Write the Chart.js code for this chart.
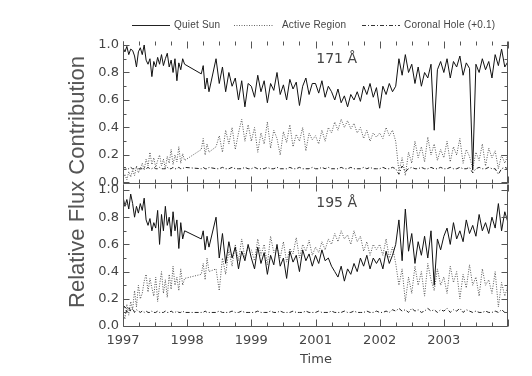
<!DOCTYPE html>
<html>
<head>
<meta charset="utf-8">
<script src="https://cdn.jsdelivr.net/npm/chart.js@4.4.1/dist/chart.umd.min.js"></script>
<style>
  html, body { margin: 0; padding: 0; background: #fff; }
  #wrap { position: relative; width: 532px; height: 376px; overflow: hidden; font-family: 'DejaVu Sans', sans-serif; color: #444; }
  #wrap canvas { position: absolute; left: 0; top: 0; }
  .txt { position: absolute; white-space: nowrap; }
  .leg { font-family: 'Liberation Sans', sans-serif; font-size: 10px; line-height: 10px; top: 20px; letter-spacing: 0.2px; }
  .band { font-size: 14px; line-height: 14px; left: 0; width: 357px; text-align: right; }
</style>
</head>
<body>
<div id="wrap">
  <canvas id="top171" width="532" height="376"></canvas>
  <canvas id="bot195" width="532" height="376"></canvas>

  <svg class="txt" style="left:0;top:0" width="532" height="40">
    <line x1="132" y1="25.5" x2="170" y2="25.5" stroke="#222" stroke-width="1"/>
    <line x1="234" y1="25.5" x2="274" y2="25.5" stroke="#666" stroke-width="1" stroke-dasharray="1,1.5"/>
    <line x1="362" y1="25.5" x2="400" y2="25.5" stroke="#333" stroke-width="1" stroke-dasharray="4,2,1,2"/>
  </svg>
  <div class="txt leg" style="left:174px">Quiet Sun</div>
  <div class="txt leg" style="left:282px">Active Region</div>
  <div class="txt leg" style="left:404px">Coronal Hole (+0.1)</div>

  <div class="txt band" style="top:51px">171 Å</div>
  <div class="txt band" style="top:195px">195 Å</div>

  <div class="txt" style="left:-73px;top:170px;width:300px;height:24px;line-height:24px;text-align:center;font-family:'Liberation Sans',sans-serif;font-size:22px;color:#555;transform:rotate(-90deg);">Relative Flux Contribution</div>
  <div class="txt" style="left:266px;top:352px;width:100px;text-align:center;font-size:13px;line-height:13px;">Time</div>
</div>

<script>
// sample times in axis units (0 = start of 1997 label, 1 per labelled tick)
var times = [
  0, 0.03, 0.06, 0.09, 0.12, 0.15, 0.18, 0.21, 0.24, 0.27, 0.30, 0.33, 0.36, 0.39, 0.42, 0.45, 0.48,
  0.51, 0.54, 0.57, 0.60, 0.63, 0.66, 0.69, 0.72, 0.75, 0.78, 0.81, 0.84, 0.87, 0.90, 0.93, 0.96,
  1.22, 1.25, 1.28, 1.31, 1.34,
  1.45, 1.50, 1.55, 1.60, 1.65, 1.70, 1.75, 1.80, 1.85, 1.90, 1.95,
  2.00, 2.05, 2.10, 2.15, 2.20, 2.25, 2.30, 2.35, 2.40, 2.45, 2.50, 2.55, 2.60, 2.65, 2.70, 2.75, 2.80, 2.85, 2.90, 2.95,
  3.00, 3.05, 3.10, 3.15, 3.20, 3.25, 3.30, 3.35, 3.40, 3.45, 3.50, 3.55, 3.60, 3.65, 3.70, 3.75, 3.80, 3.85, 3.90, 3.95,
  4.00, 4.05, 4.10, 4.15, 4.20, 4.25, 4.30, 4.35, 4.40, 4.45, 4.50, 4.55, 4.60, 4.65, 4.70, 4.75, 4.80, 4.85, 4.90, 4.95,
  5.00, 5.05, 5.10, 5.15, 5.20, 5.25, 5.30, 5.35, 5.40, 5.45, 5.50, 5.55, 5.60, 5.65, 5.70, 5.75, 5.80, 5.85, 5.90, 5.95,
  6.00
];

// 171 A panel
var qs171 = [
  0.98, 0.95, 0.99, 0.93, 0.97, 0.96, 0.92, 0.84, 0.95, 0.98, 0.93, 1.0, 0.89, 0.86, 0.9, 0.77, 0.88,
  0.84, 0.91, 0.86, 0.93, 0.85, 0.9, 0.94, 0.84, 0.89, 0.8, 0.9, 0.74, 0.87, 0.82, 0.9, 0.86,
  0.79, 0.85, 0.68, 0.76, 0.66,
  0.9, 0.72, 0.84, 0.66, 0.8, 0.7, 0.76, 0.6, 0.74, 0.55, 0.72,
  0.7, 0.62, 0.78, 0.66, 0.74, 0.58, 0.72, 0.67, 0.8, 0.64, 0.71, 0.6, 0.75, 0.68, 0.73, 0.56, 0.7, 0.76, 0.64, 0.72,
  0.72, 0.65, 0.74, 0.62, 0.7, 0.66, 0.6, 0.68, 0.58, 0.63, 0.55, 0.64, 0.6, 0.66, 0.59, 0.7, 0.64, 0.72, 0.62, 0.69,
  0.54, 0.7, 0.64, 0.72, 0.66, 0.7, 0.9, 0.78, 0.93, 0.8, 0.86, 0.72, 0.84, 0.7, 0.8, 0.76, 0.86, 0.38, 0.82, 0.88,
  0.8, 0.9, 0.76, 0.88, 0.84, 0.92, 0.78, 0.87, 0.83, 0.09, 0.86, 0.8, 0.9, 0.82, 0.88, 0.76, 0.93, 0.85, 0.97, 0.84,
  0.88
];
var ar171 = [
  0.03, 0.06, 0.02, 0.08, 0.04, 0.09, 0.05, 0.12, 0.07, 0.1, 0.14, 0.09, 0.17, 0.12, 0.22, 0.13, 0.18,
  0.11, 0.16, 0.2, 0.12, 0.17, 0.1, 0.19, 0.14, 0.24, 0.13, 0.2, 0.15, 0.26, 0.14, 0.21, 0.16,
  0.24, 0.32, 0.2, 0.28, 0.22,
  0.26, 0.34, 0.22, 0.38, 0.28, 0.4, 0.24, 0.36, 0.46, 0.3, 0.42,
  0.3, 0.4, 0.22, 0.36, 0.28, 0.44, 0.25, 0.38, 0.32, 0.2, 0.37, 0.29, 0.42, 0.26, 0.35, 0.3, 0.4, 0.23, 0.36, 0.31,
  0.34, 0.28, 0.38, 0.3, 0.4, 0.36, 0.44, 0.38, 0.46, 0.4, 0.45, 0.39, 0.43, 0.36, 0.4, 0.32, 0.38, 0.3, 0.36, 0.33,
  0.36, 0.32, 0.4, 0.34, 0.38, 0.3, 0.08, 0.18, 0.05, 0.22, 0.14, 0.3, 0.18, 0.26, 0.15, 0.33, 0.2, 0.28, 0.16, 0.24,
  0.18, 0.3, 0.15, 0.26, 0.2, 0.32, 0.14, 0.24, 0.19, 0.1, 0.22, 0.16, 0.28, 0.12, 0.25, 0.18, 0.23, 0.1, 0.2, 0.14,
  0.2
];
var ch171 = [
  0.1, 0.11, 0.1, 0.1, 0.11, 0.1, 0.1, 0.11, 0.1, 0.1, 0.1, 0.11, 0.1, 0.11, 0.1, 0.1, 0.11,
  0.1, 0.1, 0.11, 0.1, 0.1, 0.1, 0.11, 0.1, 0.1, 0.11, 0.1, 0.1, 0.11, 0.1, 0.1, 0.11,
  0.1, 0.11, 0.1, 0.1, 0.11,
  0.1, 0.1, 0.11, 0.1, 0.1, 0.11, 0.1, 0.1, 0.1, 0.11, 0.1,
  0.1, 0.11, 0.1, 0.1, 0.1, 0.11, 0.1, 0.1, 0.11, 0.1, 0.1, 0.1, 0.11, 0.1, 0.1, 0.11, 0.1, 0.1, 0.1, 0.11,
  0.1, 0.1, 0.11, 0.1, 0.11, 0.1, 0.1, 0.1, 0.11, 0.1, 0.1, 0.11, 0.1, 0.1, 0.1, 0.11, 0.1, 0.11, 0.1, 0.1,
  0.1, 0.11, 0.1, 0.1, 0.11, 0.1, 0.06, 0.12, 0.08, 0.1, 0.11, 0.1, 0.1, 0.11, 0.1, 0.1, 0.11, 0.1, 0.1, 0.11,
  0.1, 0.1, 0.11, 0.1, 0.1, 0.11, 0.1, 0.1, 0.11, 0.07, 0.1, 0.11, 0.1, 0.1, 0.11, 0.1, 0.1, 0.06, 0.1, 0.11,
  0.1
];

// 195 A panel
var qs195 = [
  0.95, 0.88, 0.93, 0.86, 0.97, 0.9, 0.8, 0.88, 0.83, 0.9, 0.85, 0.94, 0.78, 0.74, 0.79, 0.7, 0.76,
  0.72, 0.85, 0.6, 0.82, 0.7, 0.88, 0.74, 0.8, 0.66, 0.84, 0.7, 0.78, 0.57, 0.76, 0.64, 0.7,
  0.64, 0.7, 0.56, 0.66, 0.58,
  0.8, 0.5, 0.68, 0.46, 0.62, 0.5, 0.58, 0.42, 0.55, 0.48, 0.6,
  0.5, 0.42, 0.58, 0.46, 0.54, 0.38, 0.52, 0.45, 0.6, 0.44, 0.5, 0.35, 0.55, 0.47, 0.52, 0.4, 0.56, 0.48, 0.53, 0.44,
  0.52, 0.46, 0.56, 0.48, 0.5, 0.44, 0.4, 0.36, 0.44, 0.33, 0.42, 0.38, 0.46, 0.4, 0.5, 0.44, 0.52, 0.42, 0.5, 0.46,
  0.5, 0.42, 0.55, 0.46, 0.52, 0.6, 0.78, 0.48, 0.86, 0.55, 0.68, 0.46, 0.62, 0.52, 0.66, 0.5, 0.7, 0.3, 0.64, 0.56,
  0.66, 0.72, 0.6, 0.76, 0.64, 0.7, 0.62, 0.78, 0.68, 0.74, 0.66, 0.82, 0.7, 0.76, 0.68, 0.8, 0.72, 0.9, 0.7, 0.84,
  0.76
];
var ar195 = [
  0.1, 0.05, 0.16, 0.08, 0.18, 0.12, 0.26, 0.14, 0.3, 0.2, 0.24, 0.33, 0.38, 0.25, 0.35, 0.28, 0.22,
  0.36, 0.18, 0.3, 0.4, 0.24, 0.34, 0.21, 0.38, 0.27, 0.44, 0.3, 0.36, 0.26, 0.42, 0.3, 0.35,
  0.38, 0.46, 0.34, 0.5, 0.4,
  0.42, 0.26, 0.5, 0.38, 0.56, 0.44, 0.6, 0.48, 0.64, 0.5, 0.58,
  0.56, 0.48, 0.64, 0.52, 0.6, 0.45, 0.66, 0.54, 0.58, 0.5, 0.62, 0.47, 0.57, 0.53, 0.65, 0.5, 0.6, 0.55, 0.63, 0.52,
  0.58, 0.54, 0.62, 0.56, 0.64, 0.6, 0.68, 0.62, 0.7, 0.64, 0.67, 0.6, 0.7, 0.62, 0.66, 0.55, 0.62, 0.52, 0.6, 0.56,
  0.6, 0.52, 0.64, 0.5, 0.58, 0.46, 0.3, 0.42, 0.18, 0.36, 0.24, 0.44, 0.3, 0.4, 0.22, 0.46, 0.34, 0.26, 0.42, 0.3,
  0.36, 0.24, 0.44, 0.32, 0.4, 0.2, 0.38, 0.28, 0.45, 0.3, 0.36, 0.22, 0.42, 0.3, 0.34, 0.24, 0.4, 0.14, 0.32, 0.22,
  0.3
];
var ch195 = [
  0.12, 0.15, 0.1, 0.14, 0.11, 0.13, 0.1, 0.12, 0.11, 0.1, 0.11, 0.1, 0.11, 0.1, 0.1, 0.11, 0.1,
  0.1, 0.11, 0.1, 0.1, 0.1, 0.11, 0.1, 0.1, 0.11, 0.1, 0.1, 0.11, 0.1, 0.1, 0.11, 0.1,
  0.1, 0.1, 0.11, 0.1, 0.1,
  0.1, 0.11, 0.1, 0.1, 0.1, 0.11, 0.1, 0.1, 0.11, 0.1, 0.1,
  0.1, 0.1, 0.11, 0.1, 0.1, 0.1, 0.11, 0.1, 0.1, 0.11, 0.1, 0.1, 0.1, 0.11, 0.1, 0.1, 0.1, 0.11, 0.1, 0.1,
  0.1, 0.11, 0.1, 0.1, 0.1, 0.11, 0.1, 0.1, 0.1, 0.11, 0.1, 0.1, 0.11, 0.1, 0.1, 0.1, 0.11, 0.1, 0.1, 0.11,
  0.1, 0.1, 0.11, 0.1, 0.12, 0.11, 0.13, 0.11, 0.12, 0.1, 0.13, 0.11, 0.12, 0.1, 0.11, 0.13, 0.11, 0.12, 0.1, 0.12,
  0.11, 0.13, 0.1, 0.12, 0.11, 0.13, 0.1, 0.12, 0.11, 0.1, 0.11, 0.1, 0.1, 0.11, 0.1, 0.1, 0.11, 0.1, 0.12, 0.1,
  0.1
];

var xTickLabels = ['1997', '1998', '1999', '2001', '2002', '2003'];
var yTicks = [0, 0.2, 0.4, 0.6, 0.8, 1.0];

var axisColor = '#555';
var tickFont = { family: "'DejaVu Sans', sans-serif", size: 13 };

function pts(vals) {
  return times.map(function(t, i) { return { x: t, y: vals[i] }; });
}

// IDL-style frame: left/right/bottom lines, inward ticks on all four sides
var frameTicks = {
  id: 'frameTicks',
  afterDraw: function(chart) {
    var ctx = chart.ctx, a = chart.chartArea;
    var xs = chart.scales.x, ys = chart.scales.y;
    var L = Math.round(a.left) + 0.5, R = Math.round(a.right) - 0.5;
    var T = Math.round(a.top) + 0.5, B = Math.round(a.bottom) - 0.5;
    ctx.save();
    try {
      ctx.setLineDash([]);
      ctx.strokeStyle = axisColor;
      ctx.lineWidth = 1;
      ctx.beginPath();
      ctx.moveTo(L, T); ctx.lineTo(L, B); ctx.lineTo(R, B); ctx.lineTo(R, T);
      for (var i = 0; i <= 24; i++) {
        var px = Math.round(xs.getPixelForValue(i / 4)) + 0.5;
        var len = i % 4 === 0 ? 7 : 4;
        ctx.moveTo(px, B); ctx.lineTo(px, B - len);
        ctx.moveTo(px, T); ctx.lineTo(px, T + len);
      }
      for (var j = 0; j <= 10; j++) {
        var py = Math.round(ys.getPixelForValue(j / 10)) + 0.5;
        var l2 = j % 2 === 0 ? 6 : 3;
        ctx.moveTo(L, py); ctx.lineTo(L + l2, py);
        ctx.moveTo(R, py); ctx.lineTo(R - l2, py);
      }
      ctx.stroke();
    } catch (e) { /* keep the plot even if the frame fails */ }
    ctx.restore();
  }
};

function makePanel(canvasId, qs, ar, ch, yMin, yMax, padTop, padBottom, showX) {
  return new Chart(document.getElementById(canvasId), {
    type: 'line',
    data: {
      datasets: [
        { label: 'Quiet Sun', data: pts(qs), borderColor: '#111', borderWidth: 1 },
        { label: 'Active Region', data: pts(ar), borderColor: '#555', borderWidth: 1, borderDash: [1, 1.5] },
        { label: 'Coronal Hole (+0.1)', data: pts(ch), borderColor: '#222', borderWidth: 1, borderDash: [4, 2, 1, 2] }
      ]
    },
    options: {
      responsive: false,
      animation: false,
      events: [],
      layout: { padding: { left: 83, right: 24, top: padTop, bottom: padBottom } },
      elements: { point: { radius: 0 }, line: { tension: 0 } },
      plugins: { legend: { display: false }, tooltip: { enabled: false } },
      scales: {
        x: {
          type: 'linear',
          min: 0,
          max: 6,
          display: showX,
          grid: { display: false, drawTicks: false },
          border: { display: false },
          afterBuildTicks: function(s) {
            s.ticks = xTickLabels.map(function(_, i) { return { value: i }; });
          },
          afterFit: function(s) { s.height = showX ? 49 : 0; },
          ticks: {
            autoSkip: false,
            maxRotation: 0,
            padding: 6,
            color: '#444',
            font: tickFont,
            callback: function(v, i) { return xTickLabels[i]; }
          }
        },
        y: {
          min: yMin,
          max: yMax,
          grid: { display: false, drawTicks: false },
          border: { display: false },
          afterBuildTicks: function(s) {
            s.ticks = yTicks.map(function(v) { return { value: v }; });
          },
          afterFit: function(s) { s.width = 40; },
          ticks: {
            padding: 4,
            color: '#444',
            font: tickFont,
            callback: function(v) { return Number(v).toFixed(1); }
          }
        }
      }
    },
    plugins: [frameTicks]
  });
}

makePanel('top171', qs171, ar171, ch171, -0.011, 1.029, 41, 192, false);
makePanel('bot195', qs195, ar195, ch195, -0.007, 1.044, 184, 0, true);
</script>
</body>
</html>
